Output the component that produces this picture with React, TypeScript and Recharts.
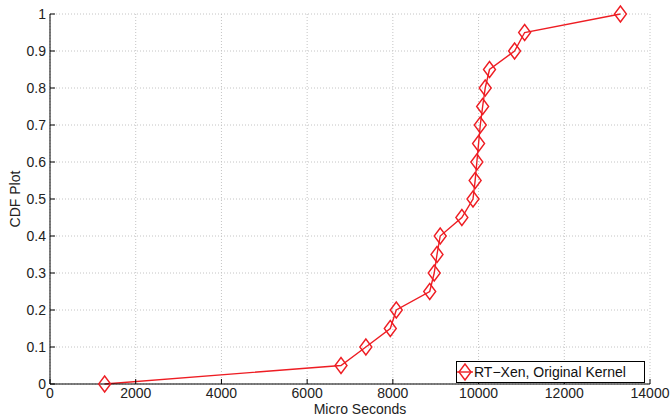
import { CartesianGrid, Legend, Line, LineChart, XAxis, YAxis } from 'recharts';

// latency samples (microseconds) and their CDF level
const latency = [
  1275, 6790, 7370, 7940, 8080, 8860, 8965, 9030, 9105, 9610, 9870, 9920, 9960, 10000, 10040,
  10095, 10155, 10255, 10840, 11075, 13310
];
const cdf = [
  0, 0.05, 0.1, 0.15, 0.2, 0.25, 0.3, 0.35, 0.4, 0.45, 0.5, 0.55, 0.6, 0.65, 0.7, 0.75, 0.8,
  0.85, 0.9, 0.95, 1
];
const xTicks = [0, 2000, 4000, 6000, 8000, 10000, 12000, 14000];
const yTicks = [0, 0.1, 0.2, 0.3, 0.4, 0.5, 0.6, 0.7, 0.8, 0.9, 1];
const seriesName = 'RT\u2212Xen, Original Kernel';

const RED = '#ee1d23';
const FONT = '"Liberation Sans", Arial, Helvetica, sans-serif';

const data = latency.map((x, i) => ({ x, y: cdf[i] }));

function Diamond(props: any) {
  const { cx, cy, index } = props;
  if (cx == null || cy == null) return null;
  return (
    <path
      key={index}
      d={`M${cx},${cy - 8}L${cx + 6},${cy}L${cx},${cy + 8}L${cx - 6},${cy}Z`}
      fill="none"
      stroke={RED}
      strokeWidth={1.4}
    />
  );
}

function LegendBox() {
  return (
    <div
      style={{
        width: 187,
        height: 20,
        border: '1px solid #000',
        background: '#fff',
        display: 'flex',
        alignItems: 'center',
        fontFamily: FONT,
        fontSize: 14,
        color: '#111',
        boxSizing: 'content-box'
      }}
    >
      <svg width={16} height={20}>
        <line x1={0} y1={10} x2={16} y2={10} stroke={RED} strokeWidth={1.4} />
        <path d="M8,2L14,10L8,18L2,10Z" fill="none" stroke={RED} strokeWidth={1.4} />
      </svg>
      <span style={{ marginLeft: 1, whiteSpace: 'nowrap' }}>{seriesName}</span>
    </div>
  );
}

export default function App() {
  return (
    <div style={{ position: 'absolute', left: 0, top: 0, background: '#fff' }}>
      <LineChart width={672} height={417} data={data} margin={{ top: 14, right: 22, left: 0, bottom: 0 }}>
        <CartesianGrid stroke="#c4c4c4" strokeDasharray="1 2" />
        <XAxis
          dataKey="x"
          type="number"
          domain={[0, 14000]}
          ticks={xTicks}
          interval={0}
          height={33}
          stroke="#000"
          tickSize={-5}
          tickMargin={9}
          tick={{ fill: '#222', fontSize: 14, fontFamily: FONT }}
          label={{
            value: 'Micro Seconds',
            position: 'insideBottom',
            offset: 3,
            dx: 10,
            fill: '#222',
            fontSize: 14,
            fontFamily: FONT
          }}
          allowDataOverflow
        />
        <YAxis
          dataKey="y"
          type="number"
          domain={[0, 1]}
          ticks={yTicks}
          interval={0}
          width={50}
          stroke="#000"
          tickSize={-5}
          tickMargin={9}
          tick={{ fill: '#222', fontSize: 14, fontFamily: FONT }}
          label={{
            value: 'CDF Plot',
            angle: -90,
            position: 'insideLeft',
            offset: 15,
            style: { textAnchor: 'middle' },
            fill: '#222',
            fontSize: 14,
            fontFamily: FONT
          }}
        />
        <Legend
          layout="horizontal"
          verticalAlign="middle"
          align="center"
          wrapperStyle={{ left: 456, top: 361, width: 'auto' }}
          content={() => <LegendBox />}
        />
        <Line
          dataKey="y"
          name={seriesName}
          type="linear"
          stroke={RED}
          strokeWidth={1.4}
          dot={Diamond}
          activeDot={false}
          isAnimationActive={false}
        />
      </LineChart>
    </div>
  );
}
